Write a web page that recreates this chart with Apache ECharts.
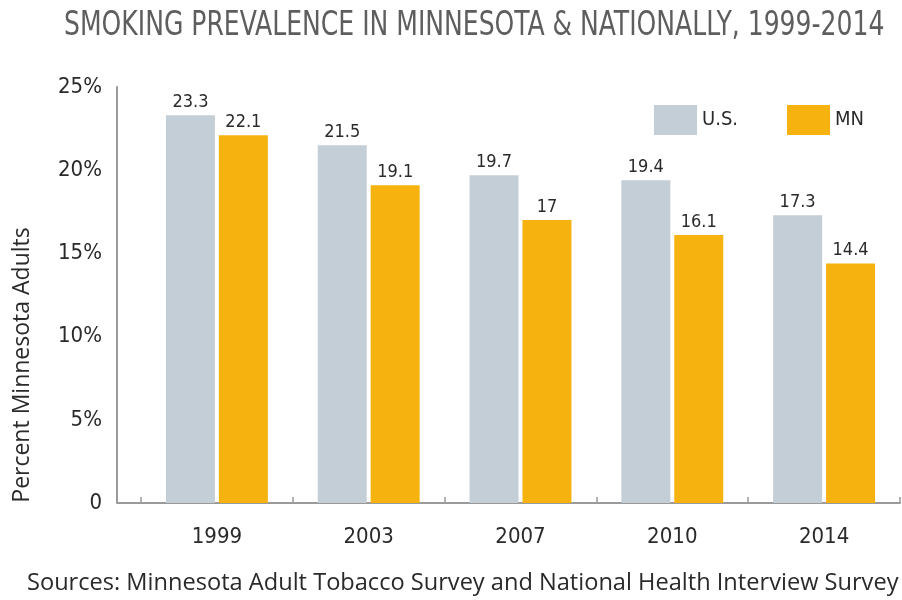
<!DOCTYPE html>
<html>
<head>
<meta charset="utf-8">
<script src="https://cdn.jsdelivr.net/npm/echarts@6/dist/echarts.min.js"></script>
<style>html,body{margin:0;padding:0;background:#fff}#c{width:902px;height:600px}</style>
</head>
<body>
<div id="c"></div>
<script>
var titleText = 'SMOKING PREVALENCE IN MINNESOTA & NATIONALLY, 1999-2014';
var sourceText = 'Sources: Minnesota Adult Tobacco Survey and National Health Interview Survey';
var yAxisName = 'Percent Minnesota Adults';
var years = ['1999', '2003', '2007', '2010', '2014'];
var usValues = [23.3, 21.5, 19.7, 19.4, 17.3];
var mnValues = [22.1, 19.1, 17, 16.1, 14.4];
var seriesNames = ['U.S.', 'MN'];
var yTickValues = [0, 5, 10, 15, 20, 25];
var yTickLabels = ['0', '5%', '10%', '15%', '20%', '25%'];

var condensed = '"DejaVu Sans Condensed", "DejaVu Sans", sans-serif';
var rounded = '"Open Sans", Lato, sans-serif';
var chart = echarts.init(document.getElementById('c'));
chart.setOption({
  animation: false,
  backgroundColor: '#ffffff',
  title: [{
    text: sourceText, left: 22, top: 566,
    textStyle: { fontFamily: rounded, fontSize: 23.6, fontWeight: 'normal', color: '#2a2a2a' }
  }],
  legend: {
    left: 649, top: 100, itemWidth: 43, itemHeight: 30, itemGap: 49,
    icon: 'rect',
    textStyle: { fontFamily: condensed, fontSize: 20, color: '#2a2a2a', padding: [0, 0, 0, 0] },
    data: seriesNames
  },
  grid: { left: 141, right: 2, top: 87, bottom: 97 },
  xAxis: {
    type: 'category', data: years,
    axisLine: { lineStyle: { color: '#9a9a9a', width: 2 } },
    axisTick: { show: true, inside: true, length: 6, interval: 0, lineStyle: { color: '#9a9a9a', width: 1.5 } },
    axisLabel: { margin: 23, fontFamily: condensed, fontSize: 22, color: '#2a2a2a' }
  },
  yAxis: {
    type: 'value', min: 0, max: 25, interval: 5, offset: 24,
    name: yAxisName, nameLocation: 'middle', nameGap: 83, nameRotate: 90,
    nameTextStyle: { fontFamily: rounded, fontSize: 23, color: '#2a2a2a', padding: [0, 140, 0, 0] },
    axisLine: { show: true, lineStyle: { color: '#9a9a9a', width: 2 } },
    axisTick: { show: false },
    splitLine: { show: false },
    axisLabel: {
      margin: 15, fontFamily: condensed, fontSize: 22, color: '#2a2a2a', padding: [10, 0, 0, 0],
      formatter: function (v) { var i = yTickValues.indexOf(v); return i >= 0 ? yTickLabels[i] : ''; }
    }
  },
  graphic: [{
    type: 'text', left: 64, top: 9, scaleX: 0.82, z: 10,
    style: { text: titleText, fontFamily: condensed, fontSize: 34, fill: '#5e5e5e' }
  }, {
    type: 'line', shape: { x1: 117, y1: 503, x2: 142, y2: 503 },
    style: { stroke: '#9a9a9a', lineWidth: 2 }, z: 10
  }],
  series: [{
    name: seriesNames[0], type: 'bar', data: usValues, barWidth: 49, barGap: '8%',
    itemStyle: { color: '#c4ced6' },
    label: { show: true, position: 'top', distance: 4, fontFamily: condensed, fontSize: 18, color: '#2a2a2a' }
  }, {
    name: seriesNames[1], type: 'bar', data: mnValues, barWidth: 49,
    itemStyle: { color: '#f6b30f' },
    label: { show: true, position: 'top', distance: 4, fontFamily: condensed, fontSize: 18, color: '#2a2a2a' }
  }]
});
</script>
</body>
</html>
